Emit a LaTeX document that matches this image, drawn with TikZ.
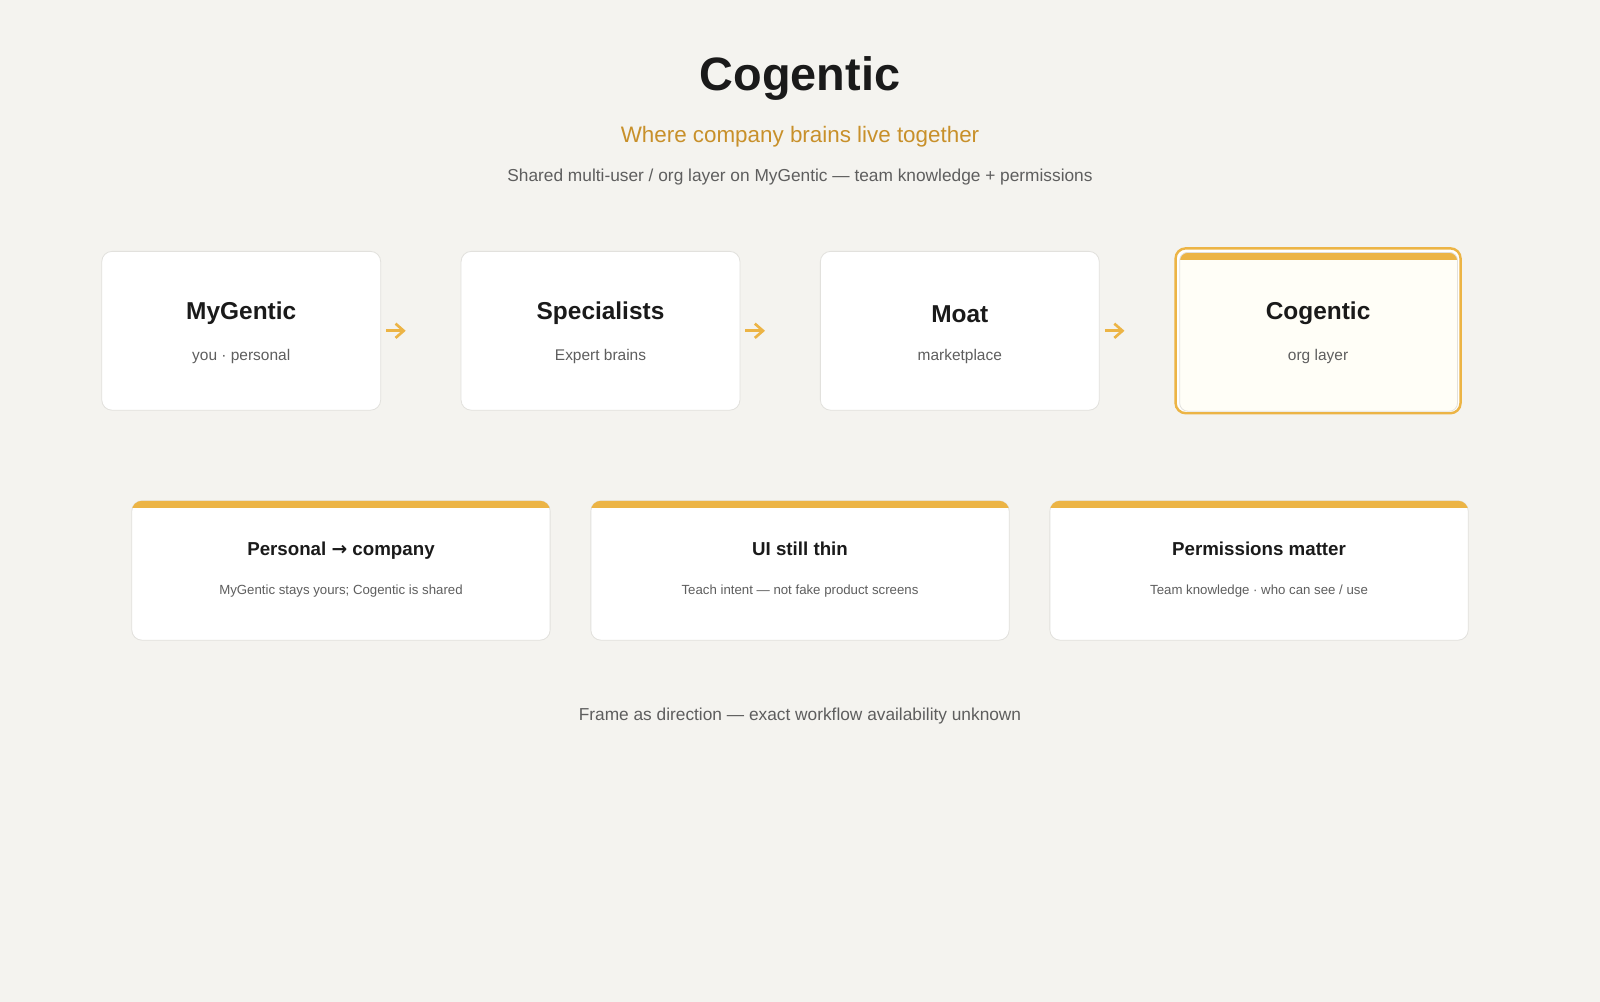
\documentclass[tikz,border=0pt]{standalone}
\usepackage{fontspec}
\setmainfont{Liberation Sans}
\newfontfamily\symfont{DejaVu Sans}
\usetikzlibrary{positioning,arrows.meta}
\definecolor{bgcol}{HTML}{F4F3EF}
\definecolor{gold}{HTML}{ECB445}
\definecolor{goldtext}{HTML}{C8902A}
\definecolor{inkcol}{HTML}{1A1A1A}
\definecolor{greytext}{HTML}{5E5E5E}
\definecolor{edgecol}{HTML}{E2E1DD}
\definecolor{cream}{HTML}{FFFEF7}
\tikzset{
  stepcard/.style={rectangle, rounded corners=5pt, draw=edgecol, fill=white, minimum width=137pt, minimum height=78pt},
  notecard/.style={rectangle, rounded corners=5pt, draw=edgecol, fill=white, minimum width=205.5pt, minimum height=68.5pt},
  steptitle/.style={font=\fontsize{12}{14}\selectfont\bfseries, text=inkcol},
  stepsub/.style={font=\fontsize{7.6}{9}\selectfont, text=greytext},
  notetitle/.style={font=\fontsize{9.2}{11}\selectfont\bfseries, text=inkcol},
  notesub/.style={font=\fontsize{6.5}{8}\selectfont, text=greytext},
  flow/.style={-{Straight Barb[length=4pt,width=7pt]}, gold, line width=1.3pt, shorten <=2.5pt, shorten >=27pt}
}
\begin{document}
\begin{tikzpicture}[x=0.5pt, y=-0.5pt]
\fill[bgcol] (-2,-2) rectangle (1570,982);
\useasboundingbox (0,0) rectangle (1568,980);

% heading
\node[font=\fontsize{23}{26}\selectfont\bfseries, text=inkcol](title) at (784,75) {Cogentic};
\node[font=\fontsize{11}{13}\selectfont, text=goldtext](tagline) at (784,132) {Where company brains live together};
\node[font=\fontsize{8.5}{10}\selectfont, text=greytext](intro) at (784,172) {Shared multi-user / org layer on MyGentic — team knowledge + permissions};

% steps
\node[stepcard](mygentic) at (235,323) {};
\node[stepcard](specialists) at (588,323) {};
\node[stepcard](moat) at (941,323) {};
\node[stepcard, draw=gold, line width=1.2pt, fill=white, minimum width=140pt, minimum height=81pt](cogentic) at (1293,323) {};
\begin{scope}
  \clip[rounded corners=4pt] (1157,246) rectangle (1430,402);
  \fill[cream] (1157,246) rectangle (1430,402);
  \fill[gold] (1157,246) rectangle (1430,253);
\end{scope}
\draw[edgecol, rounded corners=4pt] (1157,246) rectangle (1430,402);

\node[steptitle] at (235,306) {MyGentic};
\node[stepsub] at (235,348) {you · personal};
\node[steptitle] at (588,306) {Specialists};
\node[stepsub] at (588,348) {Expert brains};
\node[steptitle, text height=8.6pt] at (941,306) {Moat};
\node[stepsub] at (941,348) {marketplace};
\node[steptitle] at (1293,306) {Cogentic};
\node[stepsub] at (1293,348) {org layer};

\draw[flow](mygentic.east) -- (specialists.west);
\draw[flow](specialists.east) -- (moat.west);
\draw[flow, shorten >=24.5pt](moat.east) -- (cogentic.west);

% notes
\foreach \cx/\name/\head/\body in {333/personal/{Personal {\symfont→} company}/{MyGentic stays yours; Cogentic is shared},
  784/ui/{UI still thin}/{Teach intent — not fake product screens},
  1235/perm/{Permissions matter}/{Team knowledge · who can see / use}}{
  \node[notecard](\name) at (\cx,558.5) {};
  \begin{scope}
    \clip[rounded corners=5pt] (\cx-205.5,490) rectangle (\cx+205.5,627);
    \fill[gold] (\cx-206,489) rectangle (\cx+206,497.5);
  \end{scope}
  \node[notetitle, text height=6.8pt, text depth=2pt] at (\cx,539) {\head};
  \node[notesub] at (\cx,579) {\body};
}

\node[font=\fontsize{8.5}{10}\selectfont, text=greytext](footer) at (784,701) {Frame as direction — exact workflow availability unknown};
\end{tikzpicture}
\end{document}
